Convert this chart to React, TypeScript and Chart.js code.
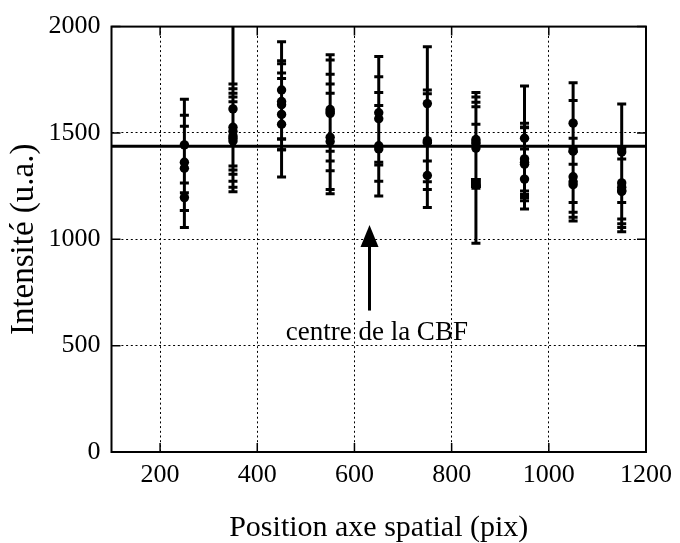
import React, { useEffect, useRef } from "react";
import { Chart, registerables } from "chart.js";

Chart.register(...registerables);

const FONT = "'Liberation Serif', 'Times New Roman', Times, serif";

// Axis ticks
const xTicks = [200, 400, 600, 800, 1000, 1200];
const yTicks = [0, 500, 1000, 1500, 2000];

// Measurements (circles): position, intensity, lower / upper end of error bar
const pointX = [
  250, 250, 250, 250,
  350, 350, 350, 350, 350, 350,
  450, 450, 450, 450, 450,
  550, 550, 550, 550, 550,
  650, 650, 650, 650,
  750, 750, 750, 750,
  850, 850, 850, 850,
  950, 950, 950, 950, 950,
  1050, 1050, 1050, 1050, 1050,
  1150, 1150, 1150, 1150, 1150,
];
const pointY = [
  1444, 1362, 1334, 1196,
  1613, 1527, 1508, 1486, 1475, 1462,
  1702, 1648, 1633, 1587, 1541,
  1610, 1600, 1592, 1480, 1460,
  1595, 1567, 1440, 1425,
  1638, 1464, 1455, 1300,
  1469, 1458, 1449, 1429,
  1475, 1378, 1362, 1353, 1283,
  1546, 1414, 1294, 1270, 1257,
  1411, 1265, 1245, 1230, 1225,
];
const errLow = [
  1219, 1135, 1055, 1135,
  1224, 1345, 1306, 1326, 1273, 1245,
  1472, 1472, 1421, 1421, 1293,
  1368, 1322, 1414, 1234, 1214,
  1349, 1362, 1204, 1273,
  1368, 1234, 1270, 1150,
  1248, 1250, 1254, 1240,
  1227, 1211, 1196, 1181, 1142,
  1353, 1173, 1104, 1127, 1086,
  1173, 1096, 1055, 1035, 1073,
];
const errHigh = [
  1659, 1583, 1531, 1265,
  2040, 1708, 1730, 1647, 1669, 1687,
  1929, 1840, 1825, 1756, 1782,
  1843, 1868, 1776, 1730, 1687,
  1859, 1764, 1690, 1629,
  1905, 1702, 1684, 1455,
  1690, 1669, 1644, 1623,
  1721, 1546, 1528, 1525, 1424,
  1736, 1652, 1475, 1413, 1428,
  1636, 1435, 1435, 1425, 1377,
];

// Measurement drawn with a square marker
const squareX = [850];
const squareY = [1265];
const squareLow = [981];
const squareHigh = [1541];

// Mean level line
const meanLevel = 1438;
const meanSpan = [100, 1200];

// Annotation: arrow pointing up and its label
const arrowX = 631;
const arrowFrom = 665;
const arrowTo = 1067;
const labelText = "centre de la CBF";
const labelX = 646;
const labelY = 562;

export default function App() {
  const ref = useRef<HTMLCanvasElement>(null);

  useEffect(() => {
    const canvas = ref.current;
    if (!canvas) return;

    const errData: any[] = [];
    pointX.forEach((x, i) => {
      errData.push({ x, y: errLow[i] }, { x, y: errHigh[i] }, { x, y: null });
    });
    squareX.forEach((x, i) => {
      errData.push({ x, y: squareLow[i] }, { x, y: squareHigh[i] }, { x, y: null });
    });

    const circles = pointX.map((x, i) => ({ x, y: pointY[i] }));
    const squares = squareX.map((x, i) => ({ x, y: squareY[i] }));
    const meanLine = meanSpan.map((x) => ({ x, y: meanLevel }));

    const framePlugin = {
      id: "frame",
      beforeDatasetsDraw(chart: any) {
        const { ctx, chartArea, scales } = chart;
        const { left, right, top, bottom } = chartArea;
        ctx.save();
        ctx.strokeStyle = "#000";
        ctx.lineWidth = 1.5;
        const tl = 9;
        ctx.beginPath();
        xTicks.forEach((v) => {
          const px = scales.x.getPixelForValue(v);
          ctx.moveTo(px, bottom);
          ctx.lineTo(px, bottom - tl);
          ctx.moveTo(px, top);
          ctx.lineTo(px, top + tl);
        });
        yTicks.forEach((v) => {
          const py = scales.y.getPixelForValue(v);
          ctx.moveTo(left, py);
          ctx.lineTo(left + tl, py);
          ctx.moveTo(right, py);
          ctx.lineTo(right - tl, py);
        });
        ctx.stroke();
        ctx.lineWidth = 2;
        ctx.strokeRect(left, top, right - left, bottom - top);
        ctx.restore();
      },
      afterDatasetsDraw(chart: any) {
        const { ctx, scales } = chart;
        const ax = scales.x.getPixelForValue(arrowX);
        const y0 = scales.y.getPixelForValue(arrowFrom);
        const y1 = scales.y.getPixelForValue(arrowTo);
        const headLen = 22;
        const headHalf = 9;
        ctx.save();
        ctx.strokeStyle = "#000";
        ctx.fillStyle = "#000";
        ctx.lineWidth = 3;
        ctx.beginPath();
        ctx.moveTo(ax, y0);
        ctx.lineTo(ax, y1 + headLen - 2);
        ctx.stroke();
        ctx.beginPath();
        ctx.moveTo(ax, y1);
        ctx.lineTo(ax - headHalf, y1 + headLen);
        ctx.lineTo(ax + headHalf, y1 + headLen);
        ctx.closePath();
        ctx.fill();
        ctx.font = `27px ${FONT}`;
        ctx.textAlign = "center";
        ctx.textBaseline = "middle";
        ctx.fillText(
          labelText,
          scales.x.getPixelForValue(labelX),
          scales.y.getPixelForValue(labelY)
        );
        ctx.restore();
      },
    };

    const chart = new Chart(canvas, {
      type: "scatter",
      data: {
        datasets: [
          {
            type: "line",
            data: errData,
            borderColor: "#000",
            borderWidth: 3,
            pointStyle: "line",
            pointRadius: 4.5,
            pointBorderWidth: 3,
            pointBorderColor: "#000",
            pointBackgroundColor: "#000",
            spanGaps: false,
            clip: 0,
            order: 3,
          } as any,
          {
            type: "line",
            data: meanLine,
            borderColor: "#000",
            borderWidth: 3,
            pointRadius: 0,
            clip: 2,
            order: 2,
          } as any,
          {
            data: circles,
            pointStyle: "circle",
            pointRadius: 4.7,
            pointBackgroundColor: "#000",
            pointBorderColor: "#000",
            pointBorderWidth: 0,
            order: 1,
          } as any,
          {
            data: squares,
            pointStyle: "rect",
            pointRadius: 7,
            pointBackgroundColor: "#000",
            pointBorderColor: "#000",
            pointBorderWidth: 0,
            order: 0,
          } as any,
        ],
      },
      options: {
        animation: false,
        responsive: false,
        maintainAspectRatio: false,
        devicePixelRatio: 1,
        events: [],
        layout: { padding: { left: 0, right: 29, top: 20.5, bottom: 0 } },
        plugins: {
          legend: { display: false },
          tooltip: { enabled: false },
        },
        scales: {
          x: {
            type: "linear",
            position: "bottom",
            min: 100,
            max: 1200,
            afterBuildTicks: (s: any) => {
              s.ticks = xTicks.map((v) => ({ value: v }));
            },
            afterFit: (s: any) => {
              s.height = 91;
            },
            ticks: {
              autoSkip: false,
              maxRotation: 0,
              color: "#000",
              padding: 8,
              font: { family: FONT, size: 26 },
              callback: (v: any) => String(v),
            },
            grid: { color: "#000", lineWidth: 1, drawTicks: false },
            border: { display: false, dash: [2, 2.7] },
            title: {
              display: true,
              text: "Position axe spatial (pix)",
              color: "#000",
              font: { family: FONT, size: 30, lineHeight: 1 },
              padding: { top: 0, bottom: 0 },
            },
          },
          y: {
            type: "linear",
            min: 0,
            max: 2000,
            afterBuildTicks: (s: any) => {
              s.ticks = yTicks.map((v) => ({ value: v }));
            },
            afterFit: (s: any) => {
              s.width = 111.5;
            },
            ticks: {
              color: "#000",
              padding: 11,
              font: { family: FONT, size: 26 },
              callback: (v: any) => String(v),
            },
            grid: { color: "#000", lineWidth: 1, drawTicks: false },
            border: { display: false, dash: [2, 2.7] },
            title: {
              display: true,
              text: "Intensité (u.a.)",
              color: "#000",
              font: { family: FONT, size: 33, lineHeight: 1 },
              padding: { top: 8, bottom: 0 },
            },
          },
        },
      },
      plugins: [framePlugin],
    });

    return () => chart.destroy();
  }, []);

  return (
    <div
      style={{
        position: "absolute",
        left: 0,
        top: 0,
        width: 680,
        height: 543,
        background: "#fff",
      }}
    >
      <canvas
        ref={ref}
        width={680}
        height={543}
        style={{ width: 680, height: 543, display: "block" }}
      />
    </div>
  );
}
